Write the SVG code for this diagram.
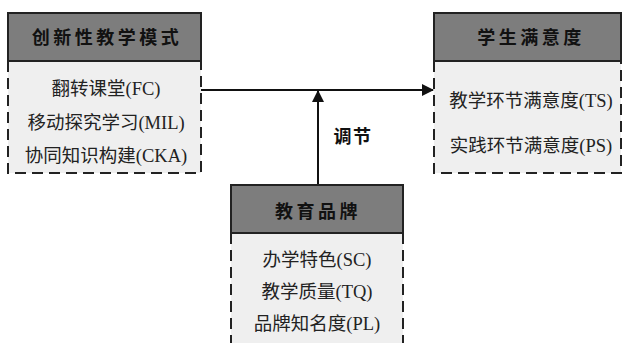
<svg xmlns="http://www.w3.org/2000/svg" width="625" height="343" viewBox="0 0 625 343">
<style>
.hd{fill:#7d7d7d;stroke:#222;stroke-width:2}
.bd{fill:#efefef;stroke:none}
.dash{fill:none;stroke:#222;stroke-width:2;stroke-dasharray:11 6}
.ht{font-family:"Noto Sans CJK SC","Noto Sans",sans-serif;font-weight:bold;font-size:18px;fill:#111;text-anchor:middle;letter-spacing:3.5px}
.bt{font-family:"Liberation Serif","Noto Sans CJK SC",serif;font-size:18.5px;fill:#222;text-anchor:middle}
.ln{stroke:#111;stroke-width:2;fill:none}
</style>
<defs>
<marker id="ah" viewBox="0 0 12 12" refX="11" refY="6" markerWidth="12" markerHeight="12" markerUnits="userSpaceOnUse" orient="auto">
<path d="M0,0 L12,6 L0,12 Z" fill="#111"/>
</marker>
</defs>
<rect width="625" height="343" fill="#fff"/>
<g id="connectors">
<line class="ln" x1="201" y1="90" x2="433" y2="90" marker-end="url(#ah)"/>
<line class="ln" x1="318" y1="185" x2="318" y2="91" marker-end="url(#ah)"/>
<text x="353" y="143" class="ht" style="letter-spacing:1.5px">调节</text>
</g>
<g id="innovative">
<rect class="bd" x="8" y="61" width="193" height="112"/>
<path class="dash" d="M8,61 V173 H201 V61"/>
<rect class="hd" x="8" y="13" width="193" height="48"/>
<text x="107" y="44" class="ht">创新性教学模式</text>
<text x="106" y="95" class="bt">翻转课堂(FC)</text>
<text x="106" y="129" class="bt">移动探究学习(MIL)</text>
<text x="106" y="162" class="bt">协同知识构建(CKA)</text>
</g>
<g id="satisfaction">
<rect class="bd" x="434" y="61" width="187" height="112"/>
<path class="dash" d="M434,61 V173 H621 V61"/>
<rect class="hd" x="434" y="13" width="187" height="48"/>
<text x="531" y="44" class="ht">学生满意度</text>
<text x="531" y="107" class="bt">教学环节满意度(TS)</text>
<text x="531" y="152" class="bt">实践环节满意度(PS)</text>
</g>
<g id="brand">
<rect class="bd" x="231" y="233" width="172" height="115"/>
<path class="dash" d="M231,233 V350 M403,233 V350"/>
<rect class="hd" x="231" y="185" width="172" height="48"/>
<text x="318" y="218" class="ht">教育品牌</text>
<text x="317" y="266" class="bt">办学特色(SC)</text>
<text x="317" y="298" class="bt">教学质量(TQ)</text>
<text x="317" y="330" class="bt">品牌知名度(PL)</text>
</g>
</svg>
